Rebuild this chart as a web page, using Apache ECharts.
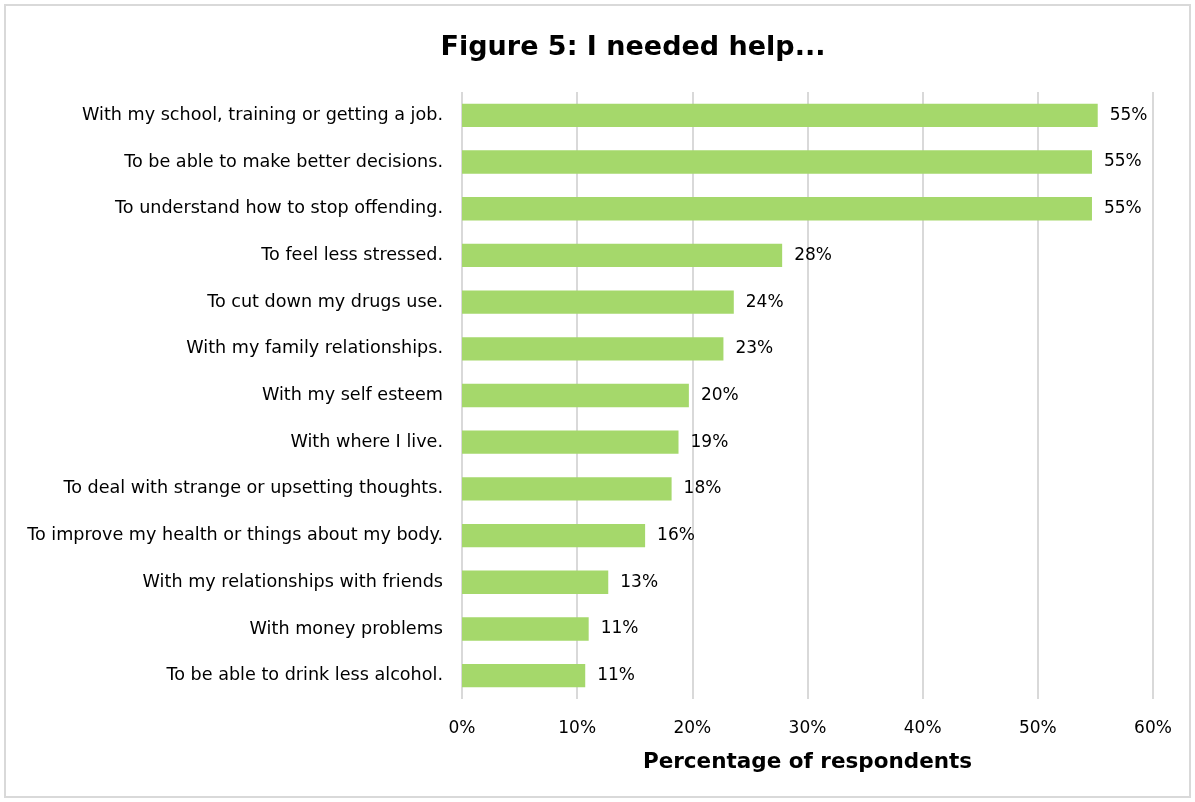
<!DOCTYPE html>
<html>
<head>
<meta charset="utf-8">
<script src="https://cdn.jsdelivr.net/npm/echarts@6/dist/echarts.min.js"></script>
<style>
  html, body { margin: 0; padding: 0; background: #fff; }
  #chart { width: 1195px; height: 802px; }
</style>
</head>
<body>
<div id="chart"></div>
<script>
  // categories listed top to bottom
  var categories = [
    'With my school, training or getting a job.',
    'To be able to make better decisions.',
    'To understand how to stop offending.',
    'To feel less stressed.',
    'To cut down my drugs use.',
    'With my family relationships.',
    'With my self esteem',
    'With where I live.',
    'To deal with strange or upsetting thoughts.',
    'To improve my health or things about my body.',
    'With my relationships with friends',
    'With money problems',
    'To be able to drink less alcohol.'
  ];
  var percentages = [55.2, 54.7, 54.7, 27.8, 23.6, 22.7, 19.7, 18.8, 18.2, 15.9, 12.7, 11.0, 10.7];
  var tickValues = [0, 10, 20, 30, 40, 50, 60];

  var font = '"DejaVu Sans", sans-serif';

  var chart = echarts.init(document.getElementById('chart'));
  chart.setOption({
    animation: false,
    title: {
      text: 'Figure 5: I needed help...',
      left: 628,
      textAlign: 'center',
      top: 29,
      textStyle: { fontFamily: font, fontSize: 27, fontWeight: 'bold', color: '#000' }
    },
    graphic: [{
      type: 'rect',
      shape: { x: 5, y: 5, width: 1185, height: 792 },
      style: { fill: 'none', stroke: '#d9d9d9', lineWidth: 2 },
      silent: true
    }],
    grid: { left: 462, right: 42, top: 92, bottom: 103 },
    xAxis: {
      type: 'value',
      min: tickValues[0],
      max: tickValues[tickValues.length - 1],
      interval: 10,
      name: 'Percentage of respondents',
      nameLocation: 'middle',
      nameGap: 52,
      nameTextStyle: { fontFamily: font, fontSize: 21.5, fontWeight: 'bold', color: '#000' },
      axisLine: { show: false },
      axisTick: { show: false },
      axisLabel: {
        margin: 21,
        fontFamily: font, fontSize: 17, color: '#000',
        formatter: function (v) { return v + '%'; }
      },
      splitLine: { show: true, lineStyle: { color: '#d9d9d9', width: 2 } }
    },
    yAxis: {
      type: 'category',
      inverse: true,
      data: categories,
      axisLine: { show: false },
      axisTick: { show: false },
      axisLabel: { margin: 19, fontFamily: font, fontSize: 17.6, color: '#000' }
    },
    series: [{
      type: 'bar',
      data: percentages,
      barWidth: '50%',
      itemStyle: { color: '#a5d86b' },
      label: {
        show: true,
        position: 'right',
        distance: 12,
        fontFamily: font, fontSize: 17, color: '#000',
        formatter: function (p) { return Math.round(p.value) + '%'; }
      }
    }]
  });
</script>
</body>
</html>
